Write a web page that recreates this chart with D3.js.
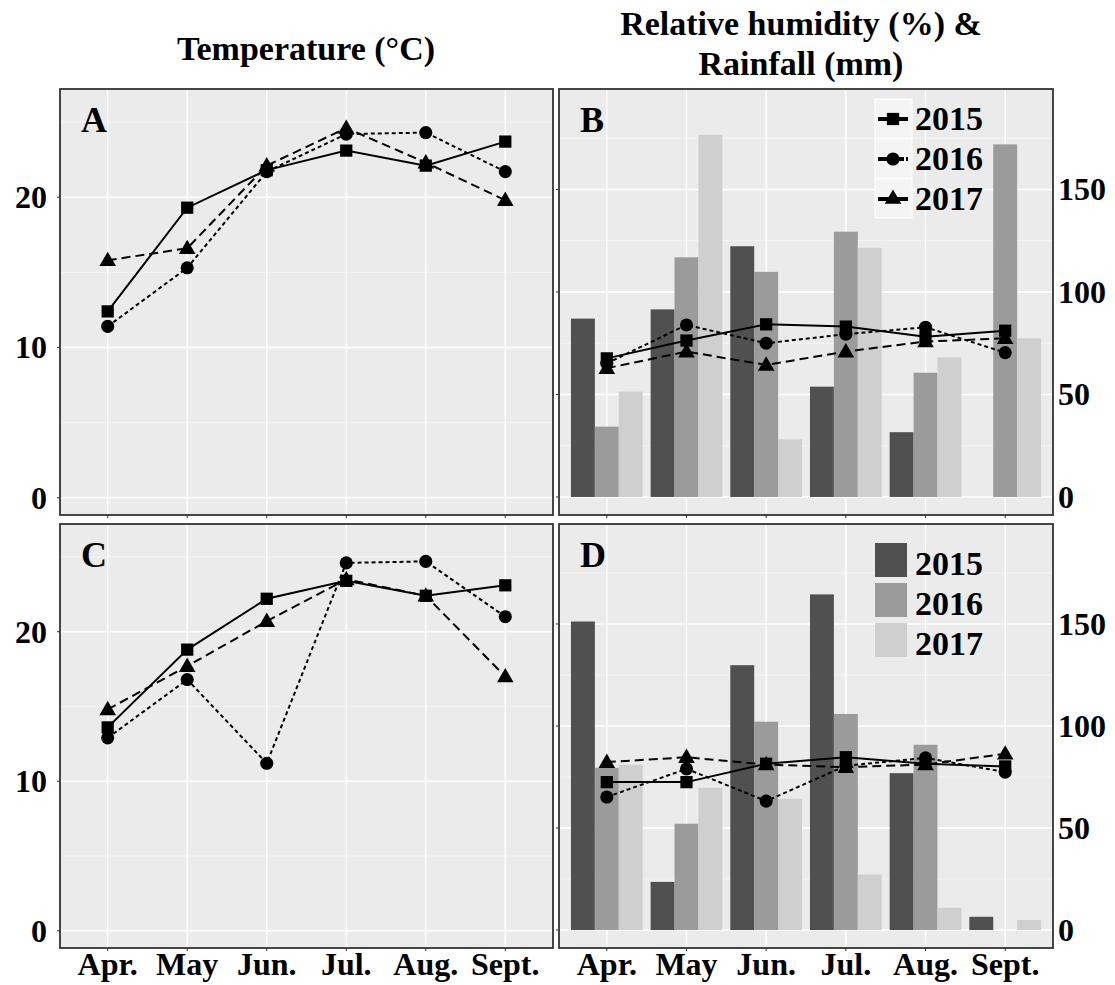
<!DOCTYPE html>
<html><head><meta charset="utf-8">
<script src="https://cdn.jsdelivr.net/npm/d3@7"></script>
<style>
html,body{margin:0;padding:0;background:#fff;}
svg text{font-family:"Liberation Serif","Times New Roman",serif;font-weight:bold;fill:#000;}
</style></head>
<body>
<svg id="chart" width="1115" height="985"></svg>
<script>
// ---------- data ----------
const months = ["Apr.", "May", "Jun.", "Jul.", "Aug.", "Sept."];
const years = ["2015", "2016", "2017"];

const tempTicks = [0, 10, 20];
const rainTicks = [0, 50, 100, 150];

// Panel A: temperature (°C)
const tempA_2015 = [12.4, 19.3, 21.8, 23.1, 22.1, 23.7];
const tempA_2016 = [11.4, 15.3, 21.7, 24.2, 24.3, 21.7];
const tempA_2017 = [15.8, 16.6, 22.1, 24.6, 22.3, 19.8];

// Panel B: rainfall (mm) bars, relative humidity (%) lines
const rainB_2015 = [87.0, 91.5, 122.3, 53.8, 31.6, 0];
const rainB_2016 = [34.3, 116.9, 109.8, 129.4, 60.6, 172.0];
const rainB_2017 = [51.4, 176.6, 28.1, 121.5, 68.1, 77.4];
const rhB_2015 = [67.6, 76.3, 84.2, 83.1, 78.2, 81.1];
const rhB_2016 = [65.2, 83.9, 75.0, 79.4, 82.8, 70.4];
const rhB_2017 = [62.8, 70.9, 64.4, 70.9, 75.8, 77.4];

// Panel C: temperature (°C)
const tempC_2015 = [13.6, 18.8, 22.2, 23.4, 22.4, 23.1];
const tempC_2016 = [12.9, 16.8, 11.2, 24.6, 24.7, 21.0];
const tempC_2017 = [14.8, 17.7, 20.7, 23.5, 22.4, 17.0];

// Panel D: rainfall (mm) bars, relative humidity (%) lines
const rainD_2015 = [151.2, 23.6, 129.8, 164.5, 76.9, 6.5];
const rainD_2016 = [79.5, 52.1, 102.1, 105.9, 90.8, 0];
const rainD_2017 = [81.0, 69.7, 64.3, 27.2, 10.9, 4.9];
const rhD_2015 = [72.5, 72.5, 81.5, 84.7, 81.5, 80.2];
const rhD_2016 = [65.2, 79.0, 63.2, 80.5, 84.4, 77.4];
const rhD_2017 = [82.3, 84.7, 81.1, 79.8, 81.1, 86.4];

// ---------- styling ----------
const barColors = {"2015": "#505050", "2016": "#9b9b9b", "2017": "#cfcfcf"};
const dashes = {"2015": null, "2016": "4,3", "2017": "9,5"};
const shapes = {"2015": d3.symbolSquare, "2016": d3.symbolCircle, "2017": d3.symbolTriangle};
const shapeSize = {"2015": 150, "2016": 135, "2017": 120};

const svg = d3.select("#chart");

function panel(opts) {
  const {x0, x1, y0, y1, domain, ticks, label, tickSide, showMonths} = opts;
  const g = svg.append("g");
  const x = d3.scalePoint().domain(months).range([x0, x1]).padding(0.6);
  const y = d3.scaleLinear().domain(domain).range([y1, y0]);
  g.append("rect").attr("x", x0).attr("y", y0).attr("width", x1 - x0).attr("height", y1 - y0).attr("fill", "#ebebeb");
  // minor gridlines
  const minor = [];
  for (let i = 0; i < ticks.length; i++) {
    const step = ticks[1] - ticks[0];
    minor.push(ticks[i] + step / 2);
    if (i === 0) minor.push(ticks[0] - step / 2);
  }
  minor.filter(v => v > domain[0] && v < domain[1]).forEach(v => {
    g.append("line").attr("x1", x0).attr("x2", x1).attr("y1", y(v)).attr("y2", y(v)).attr("stroke", "#f7f7f7").attr("stroke-width", 0.8);
  });
  ticks.forEach(v => {
    g.append("line").attr("x1", x0).attr("x2", x1).attr("y1", y(v)).attr("y2", y(v)).attr("stroke", "#fff").attr("stroke-width", 1.4);
  });
  months.forEach(m => {
    g.append("line").attr("x1", x(m)).attr("x2", x(m)).attr("y1", y0).attr("y2", y1).attr("stroke", "#fff").attr("stroke-width", 1.4);
  });
  return {g, x, y, opts};
}

function finish(p) {
  const {g, x, y, opts} = p;
  const {x0, x1, y0, y1, ticks, label, tickSide, showMonths} = opts;
  g.append("rect").attr("x", x0).attr("y", y0).attr("width", x1 - x0).attr("height", y1 - y0)
    .attr("fill", "none").attr("stroke", "#333").attr("stroke-width", 1.8);
  // left ticks
  ticks.forEach(v => {
    g.append("line").attr("x1", x0 - 3).attr("x2", x0).attr("y1", y(v)).attr("y2", y(v)).attr("stroke", "#333").attr("stroke-width", 1);
  });
  // bottom ticks
  months.forEach(m => {
    g.append("line").attr("x1", x(m)).attr("x2", x(m)).attr("y1", y1).attr("y2", y1 + 3).attr("stroke", "#333").attr("stroke-width", 1);
  });
  // tick labels
  ticks.forEach(v => {
    const t = g.append("text").attr("y", y(v) + 11).attr("font-size", 32).text(v);
    if (tickSide === "left") t.attr("x", 47).attr("text-anchor", "end");
    else t.attr("x", x1 + 5).attr("text-anchor", "start");
  });
  if (showMonths) {
    months.forEach(m => {
      g.append("text").attr("x", x(m)).attr("y", y1 + 27).attr("text-anchor", "middle").attr("font-size", 32).text(m);
    });
  }
  g.append("text").attr("x", x0 + 21).attr("y", y0 + 43).attr("font-size", 36).text(label);
}

function drawBars(p, series) {
  const {g, x, y} = p;
  const step = x.step();
  const inner = d3.scaleBand().domain(years).range([-0.45 * step, 0.45 * step]).padding(0);
  years.forEach((yr, k) => {
    g.selectAll(null).data(series[k]).enter().append("rect")
      .attr("x", (d, i) => x(months[i]) + inner(yr))
      .attr("width", inner.bandwidth())
      .attr("y", d => y(Math.max(d, 0)))
      .attr("height", d => y(0) - y(Math.max(d, 0)))
      .attr("fill", barColors[yr]);
  });
}

function drawLines(p, series) {
  const {g, x, y} = p;
  years.forEach((yr, k) => {
    const line = d3.line().x((d, i) => x(months[i])).y(d => y(d));
    g.append("path").datum(series[k]).attr("d", line).attr("fill", "none")
      .attr("stroke", "#000").attr("stroke-width", 2)
      .attr("stroke-dasharray", dashes[yr]);
  });
  years.forEach((yr, k) => {
    g.selectAll(null).data(series[k]).enter().append("path")
      .attr("d", d3.symbol().type(shapes[yr]).size(shapeSize[yr]))
      .attr("transform", (d, i) => `translate(${x(months[i])},${y(d) + (yr === "2017" ? 1 : 0)})`)
      .attr("fill", "#000");
  });
}

const tempDomain = [-1.15, 27.2];
const rainDomain = [-8.8, 199];

const pA = panel({x0: 60, x1: 553, y0: 89, y1: 515, domain: tempDomain, ticks: tempTicks, label: "A", tickSide: "left", showMonths: false});
drawLines(pA, [tempA_2015, tempA_2016, tempA_2017]);
finish(pA);

const pB = panel({x0: 559, x1: 1053, y0: 89, y1: 515, domain: rainDomain, ticks: rainTicks, label: "B", tickSide: "right", showMonths: false});
drawBars(pB, [rainB_2015, rainB_2016, rainB_2017]);
drawLines(pB, [rhB_2015, rhB_2016, rhB_2017]);
finish(pB);

const pC = panel({x0: 60, x1: 553, y0: 524, y1: 948, domain: tempDomain, ticks: tempTicks, label: "C", tickSide: "left", showMonths: true});
drawLines(pC, [tempC_2015, tempC_2016, tempC_2017]);
finish(pC);

const pD = panel({x0: 559, x1: 1053, y0: 524, y1: 948, domain: rainDomain, ticks: rainTicks, label: "D", tickSide: "right", showMonths: true});
drawBars(pD, [rainD_2015, rainD_2016, rainD_2017]);
drawLines(pD, [rhD_2015, rhD_2016, rhD_2017]);
finish(pD);

// ---------- legends ----------
// B: line + shape keys
const legB = svg.append("g");
years.forEach((yr, k) => {
  const top = 99 + k * 40;
  legB.append("rect").attr("x", 875).attr("y", top).attr("width", 37).attr("height", 39).attr("fill", "#f4f4f4").attr("stroke", "#fff").attr("stroke-width", 1);
  legB.append("line").attr("x1", 878).attr("x2", 908).attr("y1", top + 20).attr("y2", top + 20)
    .attr("stroke", "#000").attr("stroke-width", 4).attr("stroke-dasharray", yr === "2016" ? "12,2" : null);
  legB.append("path").attr("d", d3.symbol().type(shapes[yr]).size(shapeSize[yr]))
    .attr("transform", `translate(893,${top + 20})`).attr("fill", "#000");
  legB.append("text").attr("x", 915).attr("y", top + 31).attr("font-size", 34).text(yr);
});

// D: fill keys
const legD = svg.append("g");
years.forEach((yr, k) => {
  const top = 543 + k * 40;
  legD.append("rect").attr("x", 875).attr("y", top).attr("width", 32).attr("height", 34).attr("fill", barColors[yr]);
  legD.append("text").attr("x", 915).attr("y", top + 32).attr("font-size", 34).text(yr);
});

// ---------- titles ----------
svg.append("text").attr("x", 306).attr("y", 60).attr("text-anchor", "middle").attr("font-size", 34).text("Temperature (°C)");
svg.append("text").attr("x", 801).attr("y", 35).attr("text-anchor", "middle").attr("font-size", 34).text("Relative humidity (%) &");
svg.append("text").attr("x", 801).attr("y", 75).attr("text-anchor", "middle").attr("font-size", 34).text("Rainfall (mm)");
</script>
</body></html>
